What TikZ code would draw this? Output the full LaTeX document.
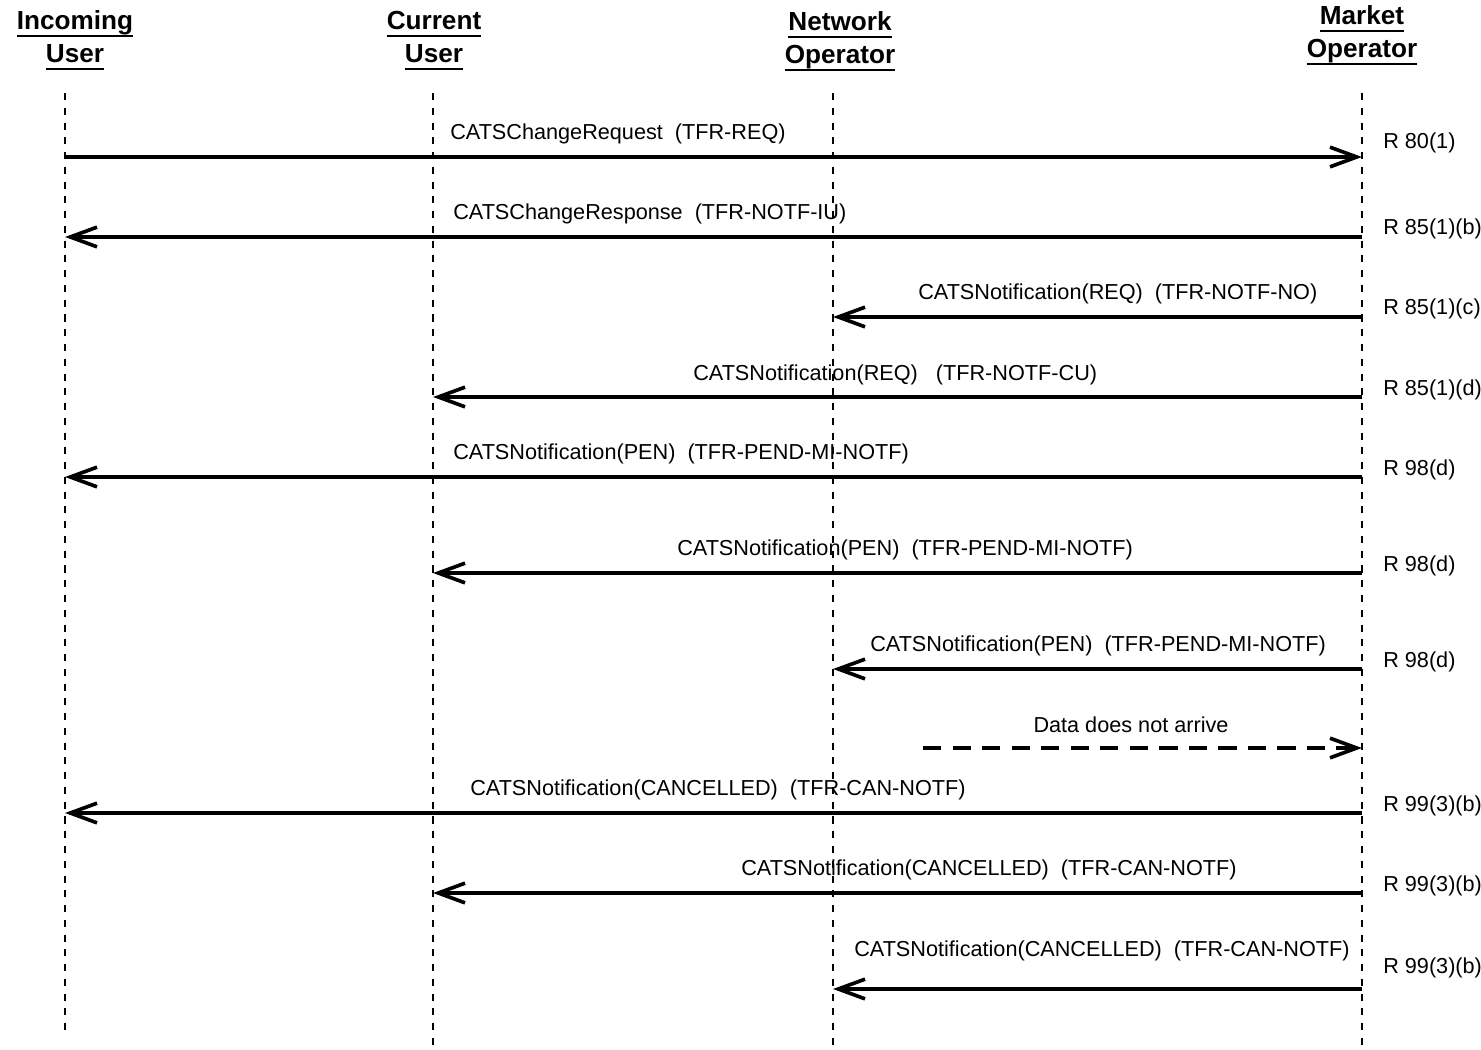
\documentclass[tikz,border=0pt]{standalone}
\usepackage{fontspec}
\setmainfont{Liberation Sans}
\usetikzlibrary{arrows.meta}
\newcommand{\hdul}[1]{\setbox0\hbox{#1}\rlap{\rule[-5.2pt]{\wd0}{1.6pt}}\box0}

\begin{document}
\begin{tikzpicture}[x=0.025cm,y=-0.025cm,
  head/.style={font=\fontsize{18.6}{23.5}\selectfont\bfseries,align=center,anchor=base,inner sep=0pt},
  life/.style={line width=1.2pt,dash pattern=on 5pt off 5.5pt},
  msg/.style={line width=2.6pt,-{Straight Barb[length=19pt,width=14pt]}},
  lost/.style={msg,dash pattern=on 13pt off 8pt},
  lbl/.style={font=\fontsize{15.4}{18}\selectfont,anchor=base west,inner sep=0pt},
  ref/.style={lbl}]
\useasboundingbox (0,0) rectangle (1481,1050);
% actors (anchor is the baseline of the last line)
\node[head] (iuhead) at (75,63) {\hdul{Incoming}\\\hdul{User}};
\node[head] (cuhead) at (434,63) {\hdul{Current}\\\hdul{User}};
\node[head] (nohead) at (840,64) {\hdul{Network}\\\hdul{Operator}};
\node[head] (mohead) at (1362,58) {\hdul{Market}\\\hdul{Operator}};
% lifelines
\coordinate (iu) at (65,93);\coordinate (iu end) at (65,1037);
\coordinate (cu) at (433,93);\coordinate (cu end) at (433,1050);
\coordinate (no) at (833,93);\coordinate (no end) at (833,1050);
\coordinate (mo) at (1362,93);\coordinate (mo end) at (1362,1050);
\draw[life] (iu) -- (iu end);
\draw[life] (cu) -- (cu end);
\draw[life] (no) -- (no end);
\draw[life] (mo) -- (mo end);
% messages
\draw[msg] (iu |- 0,157) -- (mo |- 0,157);
\node[lbl] (m1) at (450,139.5) {CATSChangeRequest\ \ (TFR-REQ)};
\node[ref] (r1) at (1383,149) {R 80(1)};
\draw[msg] (mo |- 0,237) -- (iu |- 0,237);
\node[lbl] (m2) at (453,219.5) {CATSChangeResponse\ \ (TFR-NOTF-IU)};
\node[ref] (r2) at (1383,235) {R 85(1)(b)};
\draw[msg] (mo |- 0,317) -- (no |- 0,317);
\node[lbl] (m3) at (918,299.5) {CATSNotification(REQ)\ \ (TFR-NOTF-NO)};
\node[ref] (r3) at (1383,315) {R 85(1)(c)};
\draw[msg] (mo |- 0,397) -- (cu |- 0,397);
\node[lbl] (m4) at (693,380) {CATSNotification(REQ)\ \ \ (TFR-NOTF-CU)};
\node[ref] (r4) at (1383,395) {R 85(1)(d)};
\draw[msg] (mo |- 0,477) -- (iu |- 0,477);
\node[lbl] (m5) at (453,459.5) {CATSNotification(PEN)\ \ (TFR-PEND-MI-NOTF)};
\node[ref] (r5) at (1383,475) {R 98(d)};
\draw[msg] (mo |- 0,573) -- (cu |- 0,573);
\node[lbl] (m6) at (677,555.5) {CATSNotification(PEN)\ \ (TFR-PEND-MI-NOTF)};
\node[ref] (r6) at (1383,571) {R 98(d)};
\draw[msg] (mo |- 0,669) -- (no |- 0,669);
\node[lbl] (m7) at (870,651) {CATSNotification(PEN)\ \ (TFR-PEND-MI-NOTF)};
\node[ref] (r7) at (1383,667) {R 98(d)};
\coordinate (lost start) at (923,748);
\draw[lost] (lost start) -- (mo |- lost start);
\node[lbl,anchor=base] (m8) at (1131,732) {Data does not arrive};
\draw[msg] (mo |- 0,813) -- (iu |- 0,813);
\node[lbl] (m9) at (470,795.5) {CATSNotification(CANCELLED)\ \ (TFR-CAN-NOTF)};
\node[ref] (r9) at (1383,811) {R 99(3)(b)};
\draw[msg] (mo |- 0,893) -- (cu |- 0,893);
\node[lbl] (m10) at (741,875.5) {CATSNotification(CANCELLED)\ \ (TFR-CAN-NOTF)};
\node[ref] (r10) at (1383,891) {R 99(3)(b)};
\draw[msg] (mo |- 0,989) -- (no |- 0,989);
\node[lbl] (m11) at (854,956) {CATSNotification(CANCELLED)\ \ (TFR-CAN-NOTF)};
\node[ref] (r11) at (1383,973) {R 99(3)(b)};
\end{tikzpicture}
\end{document}
